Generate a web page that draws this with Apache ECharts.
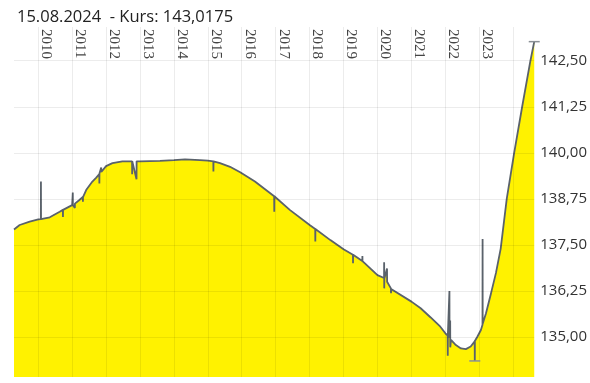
<!DOCTYPE html>
<html>
<head>
<meta charset="utf-8">
<script src="https://cdn.jsdelivr.net/npm/echarts@6/dist/echarts.min.js"></script>
<style>
html,body{margin:0;padding:0;background:#fff;}
#c{width:590px;height:383px;}
</style>
</head>
<body>
<div id="c"></div>
<script>
const titleText = '15.08.2024  - Kurs: 143,0175';
const yearTicks = [2010,2011,2012,2013,2014,2015,2016,2017,2018,2019,2020,2021,2022,2023,2024];
const yearLabels = [2010,2011,2012,2013,2014,2015,2016,2017,2018,2019,2020,2021,2022,2023];
const yTicks = [135, 136.25, 137.5, 138.75, 140, 141.25, 142.5];

const dates = [
'2009-04-15','2009-06-15','2009-10-01','2010-01-01','2010-01-29','2010-01-30','2010-01-31',
'2010-05-05','2010-08-20','2010-09-23','2010-09-24','2010-09-25',
'2011-01-01','2011-01-08','2011-01-09','2011-01-30','2011-01-31','2011-03-20',
'2011-04-26','2011-04-27','2011-04-28','2011-06-01','2011-08-07','2011-09-15',
'2011-10-20','2011-10-21','2011-10-22','2011-11-10','2011-11-11',
'2012-01-01','2012-03-10','2012-06-25','2012-10-07','2012-10-08','2012-10-09','2012-11-24','2012-11-25',
'2013-01-01','2013-08-03','2014-01-01','2014-04-30','2014-10-08',
'2015-01-01','2015-03-01','2015-03-02','2015-03-03','2015-05-12','2015-08-28','2015-12-15',
'2016-05-22','2016-12-15','2016-12-16','2016-12-17',
'2017-01-01','2017-06-01','2018-01-01','2018-03-02','2018-03-03','2018-03-04','2018-08-12',
'2019-01-01','2019-04-12','2019-04-13','2019-04-14','2019-07-22','2019-07-23','2019-07-24',
'2020-01-01','2020-03-12','2020-03-13','2020-03-14','2020-03-15','2020-04-13','2020-04-14',
'2020-05-25','2020-05-26','2020-05-27',
'2021-01-01','2021-04-10','2021-07-27','2021-11-08',
'2022-01-01','2022-01-26','2022-01-27','2022-01-28','2022-02-13','2022-02-14','2022-02-15',
'2022-02-22','2022-02-23','2022-03-03','2022-04-24','2022-06-18','2022-08-10','2022-10-01',
'2022-11-13','2022-11-14','2022-11-15','2022-12-10',
'2023-01-19','2023-02-05','2023-02-06','2023-02-07','2023-03-14','2023-05-08','2023-06-30','2023-08-20',
'2023-10-24','2024-01-12','2024-04-07','2024-07-05','2024-08-15'
];
const values = [
137.92,138.04,138.13,138.19,138.20,139.22,138.20,
138.25,138.40,138.45,138.26,138.45,
138.58,138.92,138.59,138.50,138.62,138.72,
138.80,138.67,138.80,138.99,139.22,139.32,
139.42,139.17,139.44,139.60,139.48,
139.64,139.72,139.77,139.77,139.42,139.77,139.28,139.77,
139.77,139.78,139.80,139.82,139.80,
139.79,139.77,139.49,139.77,139.72,139.62,139.47,
139.22,138.82,138.40,138.82,
138.78,138.45,138.04,137.93,137.59,137.93,137.63,
137.38,137.23,137.00,137.23,137.06,137.20,137.06,
136.68,136.60,137.03,136.32,136.58,136.86,136.50,
136.32,136.19,136.30,
135.96,135.78,135.53,135.28,
135.10,135.04,134.49,135.05,135.00,136.25,134.98,
135.45,134.72,134.92,134.78,134.69,134.67,134.74,
134.88,134.35,134.89,135.00,
135.19,135.33,137.66,135.36,135.64,136.19,136.74,137.40,
138.75,140.00,141.25,142.50,143.0175
];

function ts(s){ const p = s.split('-').map(Number); return new Date(p[0], p[1]-1, p[2]).getTime(); }
const seriesData = dates.map((d,i)=>[ts(d), values[i]]);
const tickVals = yearTicks.map(y=>new Date(y,0,1).getTime());
const labelVals = yearLabels.map(y=>new Date(y,2,25).getTime());

const chart = echarts.init(document.getElementById('c'), null, {renderer:'canvas'});
chart.setOption({
  animation:false,
  backgroundColor:'#ffffff',
  title:{
    text:titleText, left:12, top:4,
    textStyle:{fontFamily:'Open Sans', fontSize:16.5, fontWeight:'normal', color:'#222'}
  },
  grid:{left:14, right:55, top:27, bottom:6, containLabel:false},
  xAxis:{
    type:'value', position:'top', z:3, scale:true,
    min: ts('2009-04-15'), max: ts('2024-08-15'),
    axisLine:{show:false}, axisTick:{show:false, customValues:tickVals},
    splitLine:{show:true, lineStyle:{color:'rgba(0,0,0,0.075)', width:1}},
    axisLabel:{
      customValues:labelVals, inside:true, rotate:90, margin:2,
      fontFamily:'Liberation Sans Narrow', fontSize:15, color:'#444',
      formatter:function(v){ return String(new Date(v).getFullYear()); }
    }
  },
  yAxis:{
    type:'value', position:'right', z:3,
    min:133.914, max:143.415,
    axisLine:{show:false}, axisTick:{show:false, customValues:yTicks},
    splitLine:{show:true, lineStyle:{color:'rgba(0,0,0,0.075)', width:1}},
    axisLabel:{
      customValues:yTicks, margin:6,
      fontFamily:'Open Sans', fontSize:15, color:'#333',
      formatter:function(v){ return v.toFixed(2).replace('.', ','); }
    }
  },
  series:[{
    type:'line', data:seriesData, z:1,
    showSymbol:false, symbol:'none',
    lineStyle:{color:'#5a626b', width:1.8},
    areaStyle:{color:'#fff200', opacity:1},
    markPoint:{
      symbol:'rect', symbolSize:[11,1.5],
      itemStyle:{color:'#8a9096'},
      label:{show:false},
      data:[{type:'max'},{type:'min'}]
    }
  }]
});
</script>
</body>
</html>
